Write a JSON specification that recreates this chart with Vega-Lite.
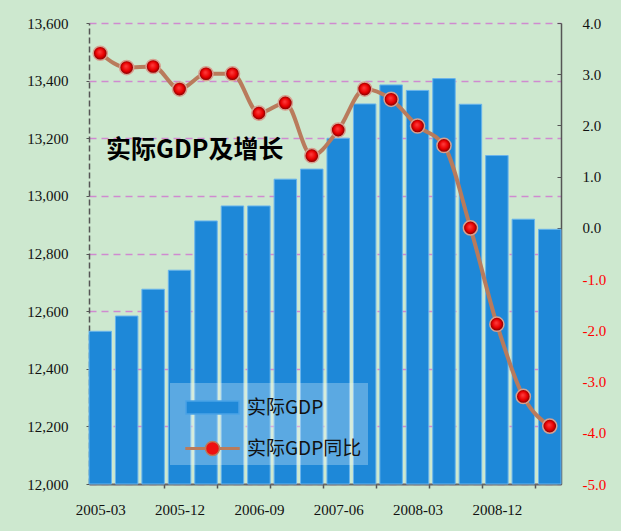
{
  "$schema": "https://vega.github.io/schema/vega-lite/v6.json",
  "width": 472,
  "height": 461,
  "autosize": {"type": "none"},
  "padding": {"left": 89, "top": 23, "right": 60, "bottom": 47},
  "background": "#cde8cf",
  "title": {
    "text": "实际GDP及增长",
    "anchor": "start",
    "frame": "group",
    "orient": "top",
    "baseline": "top",
    "offset": 0,
    "dx": 17,
    "dy": 147,
    "font": "Noto Sans CJK SC",
    "fontSize": 25,
    "fontWeight": "bold",
    "color": "#000000"
  },
  "data": {
    "values": [
      {"q": "2005-03", "gdp": 12530, "yoy": 3.41},
      {"q": "2005-06", "gdp": 12583, "yoy": 3.13},
      {"q": "2005-09", "gdp": 12676, "yoy": 3.15},
      {"q": "2005-12", "gdp": 12742, "yoy": 2.71},
      {"q": "2006-03", "gdp": 12913, "yoy": 3.01},
      {"q": "2006-06", "gdp": 12965, "yoy": 3.01},
      {"q": "2006-09", "gdp": 12965, "yoy": 2.24},
      {"q": "2006-12", "gdp": 13058, "yoy": 2.44},
      {"q": "2007-03", "gdp": 13093, "yoy": 1.41},
      {"q": "2007-06", "gdp": 13200, "yoy": 1.91},
      {"q": "2007-09", "gdp": 13319, "yoy": 2.71},
      {"q": "2007-12", "gdp": 13385, "yoy": 2.51},
      {"q": "2008-03", "gdp": 13366, "yoy": 1.99},
      {"q": "2008-06", "gdp": 13407, "yoy": 1.61},
      {"q": "2008-09", "gdp": 13318, "yoy": 0.0},
      {"q": "2008-12", "gdp": 13140, "yoy": -1.88},
      {"q": "2009-03", "gdp": 12919, "yoy": -3.29},
      {"q": "2009-06", "gdp": 12884, "yoy": -3.87}
    ]
  },
  "encoding": {
    "x": {
      "field": "q",
      "type": "nominal",
      "sort": null,
      "scale": {"paddingInner": 0.15, "paddingOuter": 0},
      "axis": {
        "title": null,
        "labelAngle": 0,
        "tickBand": "extent",
        "tickSize": 4,
        "tickColor": "#555555",
        "tickWidth": 1.5,
        "tickOpacity": {
          "condition": {"test": "indexof(['2005-09','2006-03','2006-09','2007-03','2007-09','2008-03','2008-09','2009-03'], datum.value) >= 0", "value": 1},
          "value": 0
        },
        "labelExpr": "indexof(['2005-03','2005-12','2006-09','2007-06','2008-03','2008-12'], datum.value) >= 0 ? datum.value : ''",
        "labelPadding": 14,
        "domainColor": "#666666",
        "domainWidth": 2,
        "grid": false
      }
    }
  },
  "layer": [
    {
      "mark": {"type": "bar", "stroke": "#6ab4ec", "strokeWidth": 1},
      "encoding": {
        "y": {
          "field": "gdp",
          "type": "quantitative",
          "scale": {"domain": [12000, 13600], "zero": false, "nice": false},
          "axis": {
            "title": null,
            "orient": "left",
            "values": [12000, 12200, 12400, 12600, 12800, 13000, 13200, 13400, 13600],
            "format": ",d",
            "grid": true,
            "gridColor": "#d08ad0",
            "gridDash": [7, 5],
            "gridWidth": 1.5,
            "domainColor": "#555555",
            "domainDash": [6, 3],
            "domainWidth": 1.5,
            "tickColor": "#555555",
            "tickSize": 3,
            "labelPadding": 18
          }
        },
        "y2": {"datum": 12000},
        "fill": {
          "datum": "实际GDP",
          "type": "nominal",
          "scale": {"domain": ["实际GDP", "实际GDP同比"], "range": ["#1e88d8", "#ee1010"]},
          "legend": {"title": null}
        }
      }
    },
    {
      "encoding": {
        "y": {
          "field": "yoy",
          "type": "quantitative",
          "scale": {"domain": [-5, 4], "zero": false, "nice": false},
          "axis": {
            "title": null,
            "orient": "right",
            "values": [-5, -4, -3, -2, -1, 0, 1, 2, 3, 4],
            "format": ".1f",
            "grid": false,
            "domainColor": "#555555",
            "domainWidth": 1.5,
            "tickColor": "#555555",
            "tickSize": -4,
            "labelPadding": 25,
            "labelColor": {"condition": {"test": "datum.value < 0", "value": "#ff0000"}, "value": "#111111"}
          }
        }
      },
      "layer": [
        {"mark": {"type": "line", "interpolate": "monotone", "color": "#b97b5c", "strokeWidth": 4}},
        {
          "mark": {
            "type": "point",
            "filled": true,
            "opacity": 1,
            "size": 200,
            "fill": {
              "gradient": "radial",
              "x1": 0.45, "y1": 0.4, "r1": 0,
              "x2": 0.5, "y2": 0.5, "r2": 0.5,
              "stops": [
                {"offset": 0, "color": "#ff4040"},
                {"offset": 0.6, "color": "#e80000"},
                {"offset": 1, "color": "#700000"}
              ]
            },
            "stroke": "#d8a090",
            "strokeWidth": 1.5
          }
        },
        {
          "transform": [{"filter": "false"}],
          "mark": {"type": "point", "filled": true, "size": 0},
          "encoding": {
            "shape": {
              "datum": "实际GDP同比",
              "type": "nominal",
              "scale": {
                "domain": ["实际GDP", "实际GDP同比"],
                "range": [
                  "M-1.514,-0.371H1.514V0.371H-1.514Z",
                  "M-1.514,-0.04H-0.4V0.04H-1.514Z M0.4,-0.04H1.514V0.04H0.4Z M-0.4,0A0.4,0.4 0 1,1 0.4,0A0.4,0.4 0 1,1 -0.4,0Z"
                ]
              },
              "legend": {"title": null}
            },
            "stroke": {
              "datum": "实际GDP同比",
              "type": "nominal",
              "scale": {"domain": ["实际GDP", "实际GDP同比"], "range": ["#4aa2e6", "#b97b5c"]},
              "legend": {"title": null}
            }
          }
        }
      ]
    }
  ],
  "resolve": {"scale": {"y": "independent"}},
  "config": {
    "view": {"stroke": null},
    "axis": {"labelFont": "Liberation Serif", "labelFontSize": 15, "labelColor": "#111111"},
    "legend": {
      "orient": "none",
      "legendX": 81,
      "legendY": 360,
      "fillColor": "rgba(235,245,250,0.3)",
      "padding": 6,
      "symbolSize": 1225,
      "symbolOffset": 18,
      "symbolStrokeWidth": 1.5,
      "labelFont": "Noto Sans CJK SC",
      "labelFontSize": 19,
      "labelColor": "#111111",
      "labelOffset": 16,
      "rowPadding": 12
    },
    "locale": {"number": {"decimal": ".", "thousands": ",", "grouping": [3], "currency": ["$", ""], "minus": "-"}}
  }
}
